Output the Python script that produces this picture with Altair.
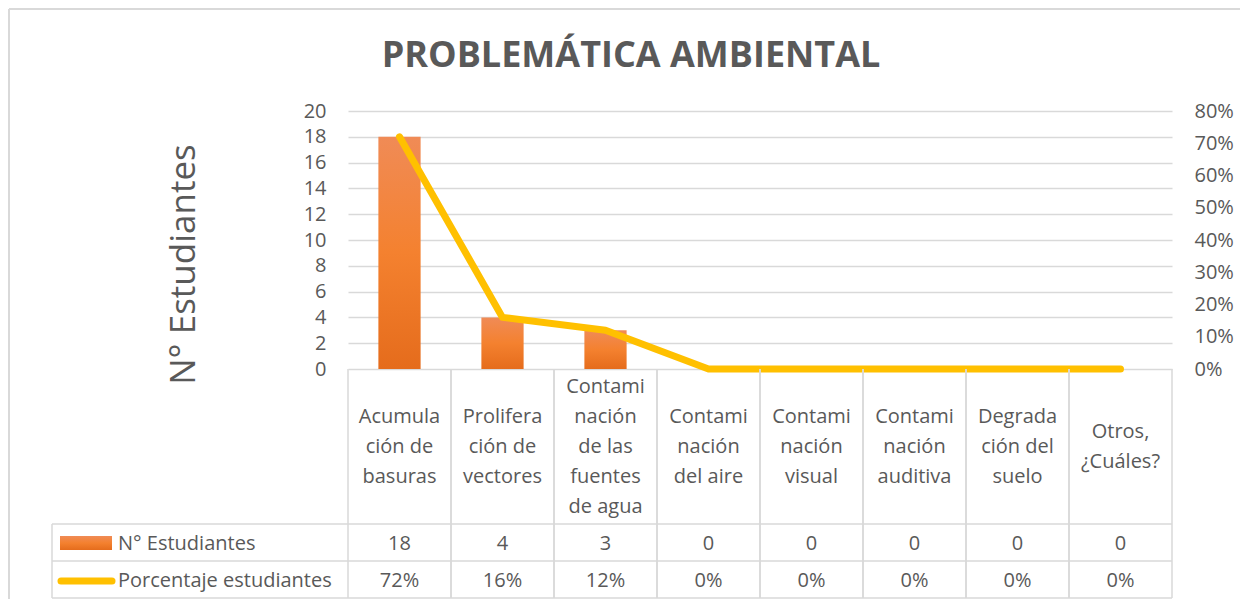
import altair as alt
import pandas as pd

# ---------------- data ----------------
categories = [
    "Acumulación de basuras",
    "Proliferación de vectores",
    "Contaminación de las fuentes de agua",
    "Contaminación del aire",
    "Contaminación visual",
    "Contaminación auditiva",
    "Degradación del suelo",
    "Otros, ¿Cuáles?",
]
category_lines = [
    "Acumula\nción de\nbasuras",
    "Prolifera\nción de\nvectores",
    "Contami\nnación\nde las\nfuentes\nde agua",
    "Contami\nnación\ndel aire",
    "Contami\nnación\nvisual",
    "Contami\nnación\nauditiva",
    "Degrada\nción del\nsuelo",
    "Otros,\n¿Cuáles?",
]
n_students = [18, 4, 3, 0, 0, 0, 0, 0]
pct_students = [0.72, 0.16, 0.12, 0.0, 0.0, 0.0, 0.0, 0.0]
series_names = ["N° Estudiantes", "Porcentaje estudiantes"]
title_text = "PROBLEMÁTICA AMBIENTAL"
left_ticks = [0, 2, 4, 6, 8, 10, 12, 14, 16, 18, 20]
right_ticks = [0.0, 0.1, 0.2, 0.3, 0.4, 0.5, 0.6, 0.7, 0.8]

# ---------------- style / layout ----------------
GRAY = "#595959"
LINE = "#D9D9D9"
YELLOW = "#FFC000"
FONT = "Open Sans"
FS = 20
W = 824          # plot width
PLOT_H = 258     # height of the bar/line area
H = 488          # plot area + data table
ROW1 = 413       # bottom of category-label row
ROW2 = 450       # bottom of count row
LH = 30          # line height of wrapped category labels

orange_grad = alt.LinearGradient(
    gradient="linear",
    stops=[alt.GradientStop(color="#F08B56", offset=0),
           alt.GradientStop(color="#F4812F", offset=0.5),
           alt.GradientStop(color="#E56C1C", offset=1)],
    x1=0, x2=0, y1=0, y2=1,
)

df = pd.DataFrame({
    "cat": categories,
    "lines": category_lines,
    "n": n_students,
    "pct": pct_students,
    "n_txt": [str(v) for v in n_students],
    "pct_txt": [f"{round(p * 100)}%" for p in pct_students],
})
one = pd.DataFrame({"k": [0]})

xscale = alt.Scale(domain=categories, paddingInner=0, paddingOuter=0)


def xenc(bp=None):
    if bp is None:
        return alt.X("cat:N", sort=categories, scale=xscale, axis=None)
    return alt.X("cat:N", sort=categories, scale=xscale, axis=None, bandPosition=bp)


bars = alt.Chart(df).mark_bar(width=alt.RelativeBandSize(0.41), color=orange_grad).encode(
    x=xenc(),
    y=alt.Y(
        "n:Q",
        scale=alt.Scale(domain=[0, 20], range=[PLOT_H, 0], nice=False),
        axis=alt.Axis(
            values=left_ticks, grid=True, gridColor=LINE, gridWidth=1.5,
            domain=False, ticks=False, labelOverlap=False,
            labelFont=FONT, labelFontSize=FS, labelColor=GRAY, labelPadding=22,
            title=series_names[0], titleFont=FONT, titleFontSize=35,
            titleFontWeight="normal", titleColor=GRAY,
            titleX=-147, titleY=153, titleAngle=270,
            titleAlign="center", titleBaseline="bottom",
        ),
    ),
)

line = alt.Chart(df).mark_line(
    color=YELLOW, strokeWidth=7, strokeCap="round", strokeJoin="round"
).encode(
    x=xenc(),
    y=alt.Y(
        "pct:Q",
        scale=alt.Scale(domain=[0, 0.8], range=[PLOT_H, 0], nice=False),
        axis=alt.Axis(
            orient="right", values=right_ticks, format=".0%", grid=False,
            domain=False, ticks=False, labelOverlap=False,
            labelFont=FONT, labelFontSize=FS, labelColor=GRAY, labelPadding=22,
            title=None,
        ),
    ),
)

txt = dict(font=FONT, fontSize=FS, color=GRAY, baseline="middle", align="center")

# wrapped category labels, vertically centred in the first table row
label_center = (PLOT_H + ROW1) / 2
labels = alt.Chart(df).transform_calculate(
    ty=f"{label_center} - (length(split(datum.lines, '\\n')) - 1) * {LH / 2}"
).mark_text(lineBreak="\n", lineHeight=LH, **txt).encode(
    x=xenc(), y=alt.Y("ty:Q", scale=None, axis=None), text="lines:N"
)
nrow = alt.Chart(df).mark_text(**txt).encode(
    x=xenc(), y=alt.value((ROW1 + ROW2) / 2 + 1), text="n_txt:N"
)
prow = alt.Chart(df).mark_text(**txt).encode(
    x=xenc(), y=alt.value((ROW2 + H) / 2 + 0.5), text="pct_txt:N"
)

rule_style = dict(color=LINE, strokeWidth=1.5)
vl0 = alt.Chart(df).mark_rule(**rule_style).encode(
    x=xenc(0), y=alt.value(PLOT_H), y2=alt.value(H - 1)
)
vl1 = alt.Chart(df).mark_rule(**rule_style).encode(
    x=xenc(1), y=alt.value(PLOT_H), y2=alt.value(H - 1)
)


def hrule(y, x0=-296, x1=W):
    return alt.Chart(one).mark_rule(**rule_style).encode(
        x=alt.value(x0), x2=alt.value(x1), y=alt.value(y)
    )


hl = [hrule(ROW1), hrule(ROW2), hrule(H - 1)]
leg_left = alt.Chart(one).mark_rule(**rule_style).encode(
    x=alt.value(-296), y=alt.value(ROW1), y2=alt.value(H - 1)
)

# outer chart-area border (top and left edges visible)
border_top = alt.Chart(one).mark_rule(color="#D9D9D9", strokeWidth=2).encode(
    x=alt.value(-339), x2=alt.value(W + 70), y=alt.value(-102)
)
border_left = alt.Chart(one).mark_rule(color="#D9D9D9", strokeWidth=2).encode(
    x=alt.value(-339), y=alt.value(-102), y2=alt.value(H)
)

# legend keys inside the data table
swatch = alt.Chart(one).mark_rect(color=orange_grad).encode(
    x=alt.value(-288), x2=alt.value(-236), y=alt.value(425), y2=alt.value(439)
)
yline = alt.Chart(one).mark_rule(color=YELLOW, strokeWidth=7, strokeCap="round").encode(
    x=alt.value(-287), x2=alt.value(-236), y=alt.value(470)
)
leg1 = alt.Chart(one).mark_text(**{**txt, "align": "left"}).encode(
    x=alt.value(-230), y=alt.value((ROW1 + ROW2) / 2 + 1), text=alt.value(series_names[0])
)
leg2 = alt.Chart(one).mark_text(**{**txt, "align": "left"}).encode(
    x=alt.value(-230), y=alt.value((ROW2 + H) / 2 + 0.5), text=alt.value(series_names[1])
)

chart = alt.layer(
    bars, line, labels, nrow, prow, vl0, vl1, *hl, leg_left,
    border_top, border_left, swatch, yline, leg1, leg2,
).resolve_scale(y="independent").properties(
    width=W,
    height=H,
    title=alt.TitleParams(
        text=title_text, font=FONT, fontSize=36, fontWeight="bold", color=GRAY,
        anchor="middle", frame="group", dx=-129, dy=95, offset=0,
        baseline="alphabetic",
    ),
    autosize=alt.AutoSizeParams(type="none"),
    padding={"left": 340, "top": 103, "right": 68, "bottom": 0},
).configure_view(stroke=None)

chart.save("out.html", embed_options={"renderer": "svg", "actions": False})
